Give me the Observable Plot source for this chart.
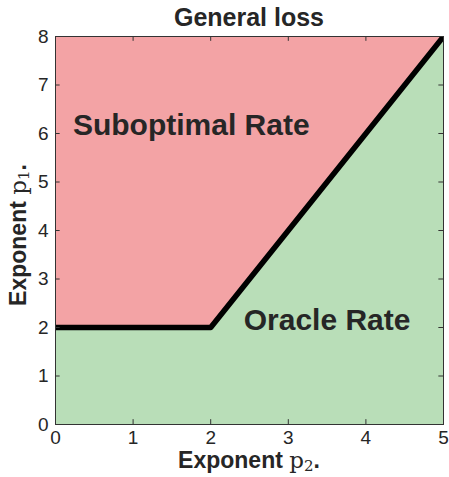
<!DOCTYPE html>
<html><head><meta charset="utf-8">
<script src="https://cdn.jsdelivr.net/npm/d3@7"></script>
<script src="https://cdn.jsdelivr.net/npm/@observablehq/plot@0.6"></script>
<style>body{margin:0;background:#fff;font-family:"Liberation Sans",Arial,sans-serif}</style>
</head><body><div id="chart"></div>
<script>
const p2 = [0, 2, 5];
const boundary = [2, 2, 8];
const xTicks = [0, 1, 2, 3, 4, 5];
const yTicks = [0, 1, 2, 3, 4, 5, 6, 7, 8];
const regions = [
  {label: "Suboptimal Rate", x: 1.75, y: 6.16},
  {label: "Oracle Rate", x: 3.5, y: 2.14}
];
const data = p2.map((x, i) => ({x, b: boundary[i]}));
const W = 449, H = 477;
const chart = Plot.plot({
  width: W, height: H,
  marginLeft: 55, marginRight: 6, marginTop: 36, marginBottom: 53,
  style: {fontFamily: "Liberation Sans, Arial, sans-serif", fontSize: "19px", color: "#262626", background: "#fff"},
  x: {domain: [0, 5]},
  y: {domain: [0, 8]},
  marks: [
    Plot.areaY(data, {x: "x", y1: "b", y2: 8, fill: "#f3a3a5"}),
    Plot.areaY(data, {x: "x", y1: 0, y2: "b", fill: "#b9deb8"}),
    Plot.line(data, {x: "x", y: "b", stroke: "#000", strokeWidth: 5.5, clip: true}),
    Plot.frame({stroke: "#333", strokeWidth: 1}),
    Plot.axisX(xTicks, {tickSize: 0, tickPadding: 6, label: null, fontSize: 19}),
    Plot.axisY(yTicks, {tickSize: 0, tickPadding: 7, label: null, fontSize: 19}),
    Plot.ruleX(xTicks, {x: d => d, y1: 0, y2: 0.1, stroke: "#333"}),
    Plot.ruleX(xTicks, {x: d => d, y1: 7.9, y2: 8, stroke: "#333"}),
    Plot.ruleY(yTicks, {y: d => d, x1: 0, x2: 0.06, stroke: "#333"}),
    Plot.ruleY(yTicks, {y: d => d, x1: 4.94, x2: 5, stroke: "#333"}),
    Plot.text(regions, {x: "x", y: "y", text: "label", fontSize: 30, fontWeight: "bold", fill: "#262626"})
  ]
});
document.getElementById("chart").append(chart);
const svg = d3.select(chart);
svg.append("text").attr("x", 249).attr("y", 26).attr("text-anchor", "middle")
  .attr("font-size", 25).attr("font-weight", "bold").attr("fill", "#262626").text("General loss");
function label(g, sub) {
  g.append("tspan").attr("font-weight", "bold").text("Exponent ");
  g.append("tspan").attr("font-family", "DejaVu Serif, serif").attr("font-weight", "normal").text("p");
  g.append("tspan").attr("font-family", "DejaVu Serif, serif").attr("font-size", 15).attr("dy", 3).text(sub);
  g.append("tspan").attr("font-weight", "bold").attr("dy", -3).text(".");
}
const xl = svg.append("text").attr("x", 249).attr("y", 468).attr("text-anchor", "middle")
  .attr("font-size", 23).attr("fill", "#262626");
label(xl, "2");
const yl = svg.append("text").attr("transform", "translate(26,235) rotate(-90)").attr("text-anchor", "middle")
  .attr("font-size", 23).attr("fill", "#262626");
label(yl, "1");
</script></body></html>
